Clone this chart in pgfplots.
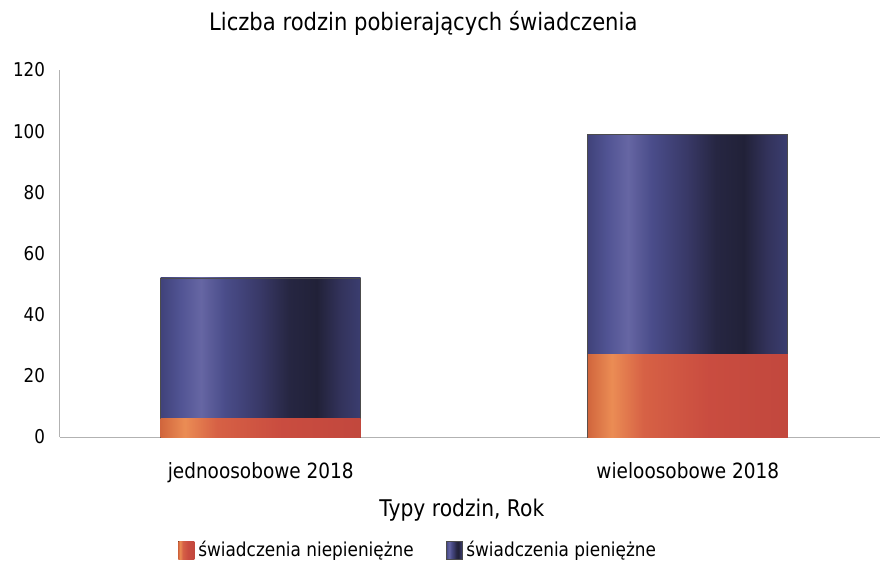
\documentclass[border=0pt]{standalone}
\usepackage{fontspec}
\setmainfont{DejaVu Sans}[FakeStretch=0.88]
\usepackage{pgfplots}
\pgfplotsset{compat=1.18}

% shadings of the bars, left to right (the bar covers 25bp to 75bp)
\pgfdeclarehorizontalshading{blueshade}{100bp}{
  rgb(0bp)=(0.25,0.26,0.48);
  rgb(25bp)=(0.25,0.26,0.48);
  rgb(30bp)=(0.32,0.33,0.58);
  rgb(35bp)=(0.40,0.40,0.64);
  rgb(41bp)=(0.29,0.30,0.54);
  rgb(50bp)=(0.22,0.22,0.40);
  rgb(57bp)=(0.15,0.15,0.26);
  rgb(64bp)=(0.13,0.13,0.22);
  rgb(70bp)=(0.20,0.20,0.36);
  rgb(75bp)=(0.23,0.24,0.44);
  rgb(100bp)=(0.23,0.24,0.44)}
\pgfdeclarehorizontalshading{redshade}{100bp}{
  rgb(0bp)=(0.82,0.40,0.24);
  rgb(25bp)=(0.82,0.40,0.24);
  rgb(31bp)=(0.92,0.55,0.33);
  rgb(39bp)=(0.84,0.38,0.27);
  rgb(55bp)=(0.79,0.30,0.25);
  rgb(75bp)=(0.76,0.28,0.24);
  rgb(100bp)=(0.76,0.28,0.24)}

\begin{document}
\begin{tikzpicture}
\begin{axis}[
    scale only axis,
    width=410pt, height=183.5pt,
    ybar, bar width=100pt, bar shift=0pt,
    xmin=-0.47, xmax=1.45,
    ymin=0, ymax=120,
    ytick={0,20,...,120},
    xtick={0,1},
    xticklabels={jednoosobowe 2018, wieloosobowe 2018},
    axis x line*=bottom, axis y line*=left,
    axis line style={gray!60, line width=0.5pt},
    major tick length=0pt,
    /pgf/number format/assume math mode=true,
    ticklabel style={font=\fontsize{9.5}{11}\selectfont},
    yticklabel style={xshift=-4pt},
    xticklabel style={yshift=-9pt, font=\fontsize{10.5}{12}\selectfont},
    xlabel={Typy rodzin, Rok},
    xlabel style={at={(axis description cs:0.49,-0.199)}, anchor=center,
                  font=\fontsize{11.5}{13}\selectfont},
    title={Liczba rodzin pobierających świadczenia},
    title style={at={(axis description cs:0.443,1.095)}, anchor=center,
                 yshift=0pt, font=\fontsize{12}{14}\selectfont},
    legend columns=2,
    legend style={draw=none, at={(axis description cs:0.438,-0.308)},
                  anchor=center, font=\fontsize{9.6}{11}\selectfont,
                  /tikz/every even column/.append style={column sep=14pt}},
    legend image code/.code={\fill[#1] (0pt,-4.5pt) rectangle (8pt,4.5pt);},
    clip=false,
]
% whole bar height (świadczenia pieniężne on top of niepieniężne)
\addplot[forget plot, shade, shading=blueshade, draw=black!70, line width=0.4pt]
  coordinates {(0,52)};
\addplot[forget plot, shade, shading=blueshade, draw=black!70, line width=0.4pt]
  coordinates {(1,99)};
% świadczenia niepieniężne
\addplot[forget plot, shade, shading=redshade, draw=none]
  coordinates {(0,6)};
\addplot[forget plot, shade, shading=redshade, draw=none]
  coordinates {(1,27)};

\addlegendimage{shade, shading=redshade, draw=none}
\addlegendentry{świadczenia niepieniężne}
\addlegendimage{shade, shading=blueshade, draw=black!70, line width=0.3pt}
\addlegendentry{świadczenia pieniężne}
\end{axis}
\pgfresetboundingbox
\path (-30pt,-68pt) rectangle (411.5pt,218.5pt);
\end{tikzpicture}
\end{document}
